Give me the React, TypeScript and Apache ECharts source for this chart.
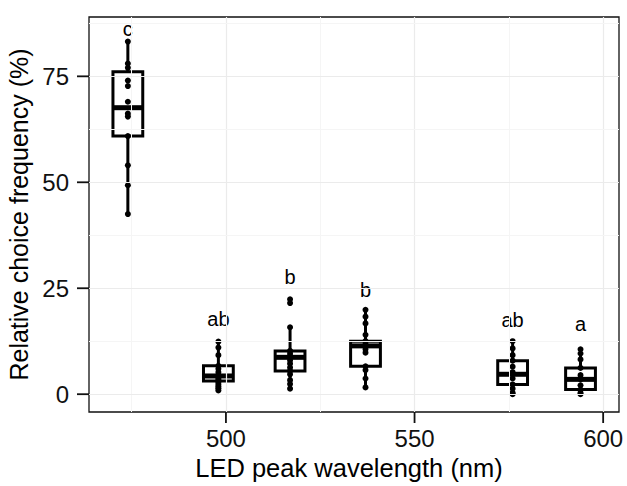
import React, { useEffect, useRef } from "react";
import * as echarts from "echarts";

// LED peak wavelengths (nm) of each group
const wavelengths = [474, 498, 517, 537, 576, 594];
// Box statistics (%)
const whiskerLow = [42.5, 0.9, 1.3, 1.6, 0.0, 0.0];
const q1 = [60.9, 3.1, 5.5, 6.6, 2.3, 1.1];
const median = [67.6, 4.3, 8.7, 11.4, 4.7, 3.5];
const q3 = [76.1, 6.7, 10.2, 12.5, 7.9, 6.2];
const whiskerHigh = [83.2, 12.4, 15.8, 19.9, 12.5, 10.6];
// Individual observations (%)
const points474 = [83.2, 78.0, 77.0, 74.0, 72.7, 69.0, 66.2, 65.5, 60.9, 54.0, 49.3, 42.5];
const points498 = [12.4, 11.0, 9.2, 6.7, 6.0, 5.2, 4.5, 4.0, 3.6, 3.2, 2.8, 2.3, 1.8, 1.4, 0.9];
const points517 = [22.4, 21.5, 15.8, 10.2, 9.5, 8.7, 8.0, 7.2, 6.3, 5.5, 4.7, 3.3, 2.4, 1.3];
const points537 = [19.9, 18.3, 16.7, 14.0, 12.5, 11.8, 11.4, 10.6, 9.8, 6.6, 5.7, 3.7, 1.6];
const points576 = [12.5, 10.8, 9.2, 7.9, 6.5, 5.2, 4.7, 3.7, 2.3, 1.3, 0.3, 0.0];
const points594 = [10.6, 9.6, 8.2, 6.2, 4.5, 3.5, 2.1, 1.1, 0.3, 0.0];
const pointGroups = [points474, points498, points517, points537, points576, points594];
// Significance letters and their heights (%)
const letters = ["c", "ab", "b", "b", "ab", "a"];
const letterY = [86.2, 17.7, 27.6, 24.6, 17.5, 16.6];
// Axis ticks
const xTicks = [500, 550, 600];
const yTicks = [0, 25, 50, 75];
const xMinorGrid = [475, 525, 575];
const yMinorGrid = [12.5, 37.5, 62.5, 87.5];

const X_MIN = 463.7;
const X_MAX = 604.2;
const Y_MIN = -4.2;
const Y_MAX = 89;
const BOX_HALF = 3.95; // nm
const FONT = "'Liberation Sans', Arial, Helvetica, sans-serif";

export default function App() {
  const ref = useRef<HTMLDivElement>(null);
  useEffect(() => {
    document.body.style.margin = "0";
    if (!ref.current) return;
    const chart = echarts.init(ref.current, undefined, { renderer: "svg" });

    const boxData = wavelengths.map((w, i) => [w, whiskerLow[i], q1[i], median[i], q3[i], whiskerHigh[i]]);
    const scatterData: number[][] = [];
    pointGroups.forEach((g, i) => g.forEach((v) => scatterData.push([wavelengths[i], v])));
    const letterData = wavelengths.map((w, i) => [w, letterY[i]]);
    const xTickData = xTicks.map((v) => [v, Y_MIN]);
    const yTickData = yTicks.map((v) => [X_MIN, v]);

    const gridLines: any[] = [];
    xTicks.forEach((v) => gridLines.push({ xAxis: v, lineStyle: { color: "#ebebeb", width: 1.2, type: "solid" } }));
    xMinorGrid.forEach((v) => gridLines.push({ xAxis: v, lineStyle: { color: "#f5f5f5", width: 1, type: "solid" } }));
    yTicks.forEach((v) => gridLines.push({ yAxis: v, lineStyle: { color: "#ebebeb", width: 1.2, type: "solid" } }));
    yMinorGrid.forEach((v) => gridLines.push({ yAxis: v, lineStyle: { color: "#f5f5f5", width: 1, type: "solid" } }));

    const option: any = {
      animation: false,
      backgroundColor: "#ffffff",
      textStyle: { fontFamily: FONT },
      grid: {
        left: 89,
        right: 8,
        top: 17,
        bottom: 74,
        outerBoundsMode: "none",
        containLabel: false,
        show: true,
        borderColor: "#111",
        borderWidth: 1.3,
        backgroundColor: "transparent",
      },
      xAxis: {
        type: "value",
        min: X_MIN,
        max: X_MAX,
        name: "LED peak wavelength (nm)",
        nameLocation: "middle",
        nameGap: 35,
        nameTextStyle: { fontSize: 25.5, color: "#000", fontFamily: FONT, padding: [0, 10, 0, 0] },
        axisLine: { show: false, onZero: false },
        axisTick: { show: false },
        axisLabel: { show: true, fontSize: 24, color: "#111", margin: 14, fontFamily: FONT, customValues: xTicks },
        splitLine: { show: false },
      },
      yAxis: {
        type: "value",
        min: Y_MIN,
        max: Y_MAX,
        name: "Relative choice frequency (%)",
        nameLocation: "middle",
        nameGap: 56,
        nameTextStyle: { fontSize: 25, color: "#000", fontFamily: FONT },
        axisLine: { show: false, onZero: false },
        axisTick: { show: false },
        axisLabel: { show: true, fontSize: 24, color: "#111", margin: 20, fontFamily: FONT, customValues: yTicks },
        splitLine: { show: false },
      },
      series: [
        {
          type: "line",
          data: [],
          z: 0,
          silent: true,
          markLine: {
            silent: true,
            symbol: ["none", "none"],
            label: { show: false },
            animation: false,
            data: gridLines,
          },
        },
        {
          // x-axis tick marks
          type: "custom",
          z: 5,
          silent: true,
          clip: false,
          data: xTickData,
          renderItem: (params: any, api: any) => {
            const p = api.coord([api.value(0), api.value(1)]);
            return { type: "line", shape: { x1: p[0], y1: p[1], x2: p[0], y2: p[1] + 11 }, style: { stroke: "#111", lineWidth: 1.8 } };
          },
        },
        {
          // y-axis tick marks
          type: "custom",
          z: 5,
          silent: true,
          clip: false,
          data: yTickData,
          renderItem: (params: any, api: any) => {
            const p = api.coord([api.value(0), api.value(1)]);
            return { type: "line", shape: { x1: p[0] - 12, y1: p[1], x2: p[0], y2: p[1] }, style: { stroke: "#111", lineWidth: 1.8 } };
          },
        },
        {
          type: "custom",
          z: 2,
          silent: true,
          data: boxData,
          renderItem: (params: any, api: any) => {
            const x = api.value(0);
            const lo = api.coord([x, api.value(1)]);
            const bl = api.coord([x - BOX_HALF, api.value(2)]);
            const tr = api.coord([x + BOX_HALF, api.value(4)]);
            const med = api.coord([x, api.value(3)]);
            const hi = api.coord([x, api.value(5)]);
            const L = bl[0];
            const R = tr[0];
            const T = tr[1];
            const B = bl[1];
            const cx = lo[0];
            const st = { stroke: "#000", lineWidth: 3 };
            return {
              type: "group",
              children: [
                { type: "line", shape: { x1: cx, y1: hi[1], x2: cx, y2: T }, style: st },
                { type: "line", shape: { x1: cx, y1: B, x2: cx, y2: lo[1] }, style: st },
                {
                  type: "rect",
                  shape: { x: L, y: T, width: R - L, height: B - T },
                  style: { fill: "#fff", stroke: "#000", lineWidth: 3 },
                },
                { type: "line", shape: { x1: L, y1: med[1], x2: R, y2: med[1] }, style: { stroke: "#000", lineWidth: 5 } },
              ],
            };
          },
        },
        {
          type: "scatter",
          z: 3,
          silent: true,
          symbol: "circle",
          symbolSize: 6,
          itemStyle: { color: "#000", borderWidth: 0, opacity: 1 },
          data: scatterData,
        },
        {
          type: "custom",
          z: 4,
          silent: true,
          data: letterData,
          renderItem: (params: any, api: any) => {
            const p = api.coord([api.value(0), api.value(1)]);
            return {
              type: "text",
              x: p[0],
              y: p[1],
              style: {
                text: letters[params.dataIndex],
                fill: "#000",
                font: `20px ${FONT}`,
                align: "center",
                verticalAlign: "middle",
              },
            };
          },
        },
      ],
    };
    chart.setOption(option);
    return () => chart.dispose();
  }, []);
  return <div ref={ref} style={{ width: 627, height: 486 }} />;
}
